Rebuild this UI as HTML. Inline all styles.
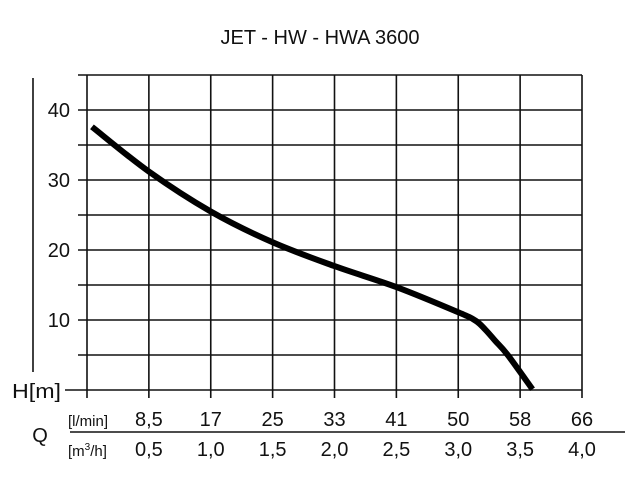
<!DOCTYPE html>
<html><head><meta charset="utf-8"><style>
body{margin:0;background:#fff}
svg text{font-family:"Liberation Sans",Arial,sans-serif;fill:#111}
</style></head><body>
<svg width="640" height="480" viewBox="0 0 640 480">
<text x="320" y="44" font-size="20" text-anchor="middle">JET - HW - HWA 3600</text>
<g id="grid" stroke="#111" stroke-width="1.6" fill="none"></g>
<line x1="33" y1="78" x2="33" y2="372" stroke="#111" stroke-width="1.6"/>
<text x="61" y="398" font-size="20" text-anchor="end" textLength="49" lengthAdjust="spacingAndGlyphs">H[m]</text>
<g id="ylabels"></g>
<text x="40" y="442" font-size="20" text-anchor="middle">Q</text>
<line x1="70" y1="432" x2="625" y2="432" stroke="#111" stroke-width="1.6"/>
<text x="68" y="426" font-size="15">[l/min]</text>
<text x="68" y="456" font-size="15">[m<tspan font-size="10" dy="-6">3</tspan><tspan dy="6">/h]</tspan></text>
<g id="xlabels"></g>
<path id="curve" fill="none" stroke="#000" stroke-width="6" stroke-linecap="butt" stroke-linejoin="round"/>
</svg>
<script>
const flowLmin=["8,5","17","25","33","41","50","58","66"];
const flowM3h=["0,5","1,0","1,5","2,0","2,5","3,0","3,5","4,0"];
const yTicks=[10,20,30,40];
const curveQ=[0.04,0.5,1.0,1.5,2.0,2.5,3.0,3.14,3.22,3.3,3.4,3.6];
const curveH=[37.6,31.2,25.5,21.1,17.7,14.7,11.1,9.9,8.6,7.0,5.0,0.1];
const X0=87,X1=582,QMAX=4,Y0=390,HMAX=45,Y1=75;
const sx=q=>X0+(X1-X0)*q/QMAX;
const sy=h=>Y0-(Y0-Y1)*h/HMAX;
const NS="http://www.w3.org/2000/svg";
const grid=document.getElementById('grid');
function line(x1,y1,x2,y2,name){const l=document.createElementNS(NS,'line');
l.setAttribute('x1',x1);l.setAttribute('y1',y1);l.setAttribute('x2',x2);l.setAttribute('y2',y2);


grid.appendChild(l);}
for(let h=5;h<=HMAX;h+=5){line(78,sy(h),X1,sy(h),'grid-h-'+h);}
line(65,Y0,X1,Y0,'x-axis-line');
for(let i=0;i<=8;i++){const q=i*0.5;line(sx(q),Y1,sx(q),Y0+8,'grid-v-'+i);}
const yl=document.getElementById('ylabels');
yTicks.forEach(v=>{const t=document.createElementNS(NS,'text');
t.setAttribute('x',70);t.setAttribute('y',sy(v)+7);t.setAttribute('font-size','20');t.setAttribute('text-anchor','end');


t.textContent=v;yl.appendChild(t);});
const xl=document.getElementById('xlabels');
flowLmin.forEach((s,i)=>{const x=sx((i+1)*0.5);
const a=document.createElementNS(NS,'text');a.setAttribute('x',x);a.setAttribute('y',426);a.setAttribute('font-size','20');a.setAttribute('text-anchor','middle');


a.textContent=s;xl.appendChild(a);
const b=document.createElementNS(NS,'text');b.setAttribute('x',x);b.setAttribute('y',456);b.setAttribute('font-size','20');b.setAttribute('text-anchor','middle');


b.textContent=flowM3h[i];xl.appendChild(b);});
const P=curveQ.map((q,i)=>[sx(q),sy(curveH[i])]);
let d='M'+P[0][0]+','+P[0][1];
for(let i=0;i<P.length-1;i++){const p0=P[i-1]||P[i],p1=P[i],p2=P[i+1],p3=P[i+2]||P[i+1];
const c1=[p1[0]+(p2[0]-p0[0])/6,p1[1]+(p2[1]-p0[1])/6],c2=[p2[0]-(p3[0]-p1[0])/6,p2[1]-(p3[1]-p1[1])/6];
d+=` C${c1[0]},${c1[1]} ${c2[0]},${c2[1]} ${p2[0]},${p2[1]}`;}
document.getElementById('curve').setAttribute('d',d);
</script>
</body></html>
